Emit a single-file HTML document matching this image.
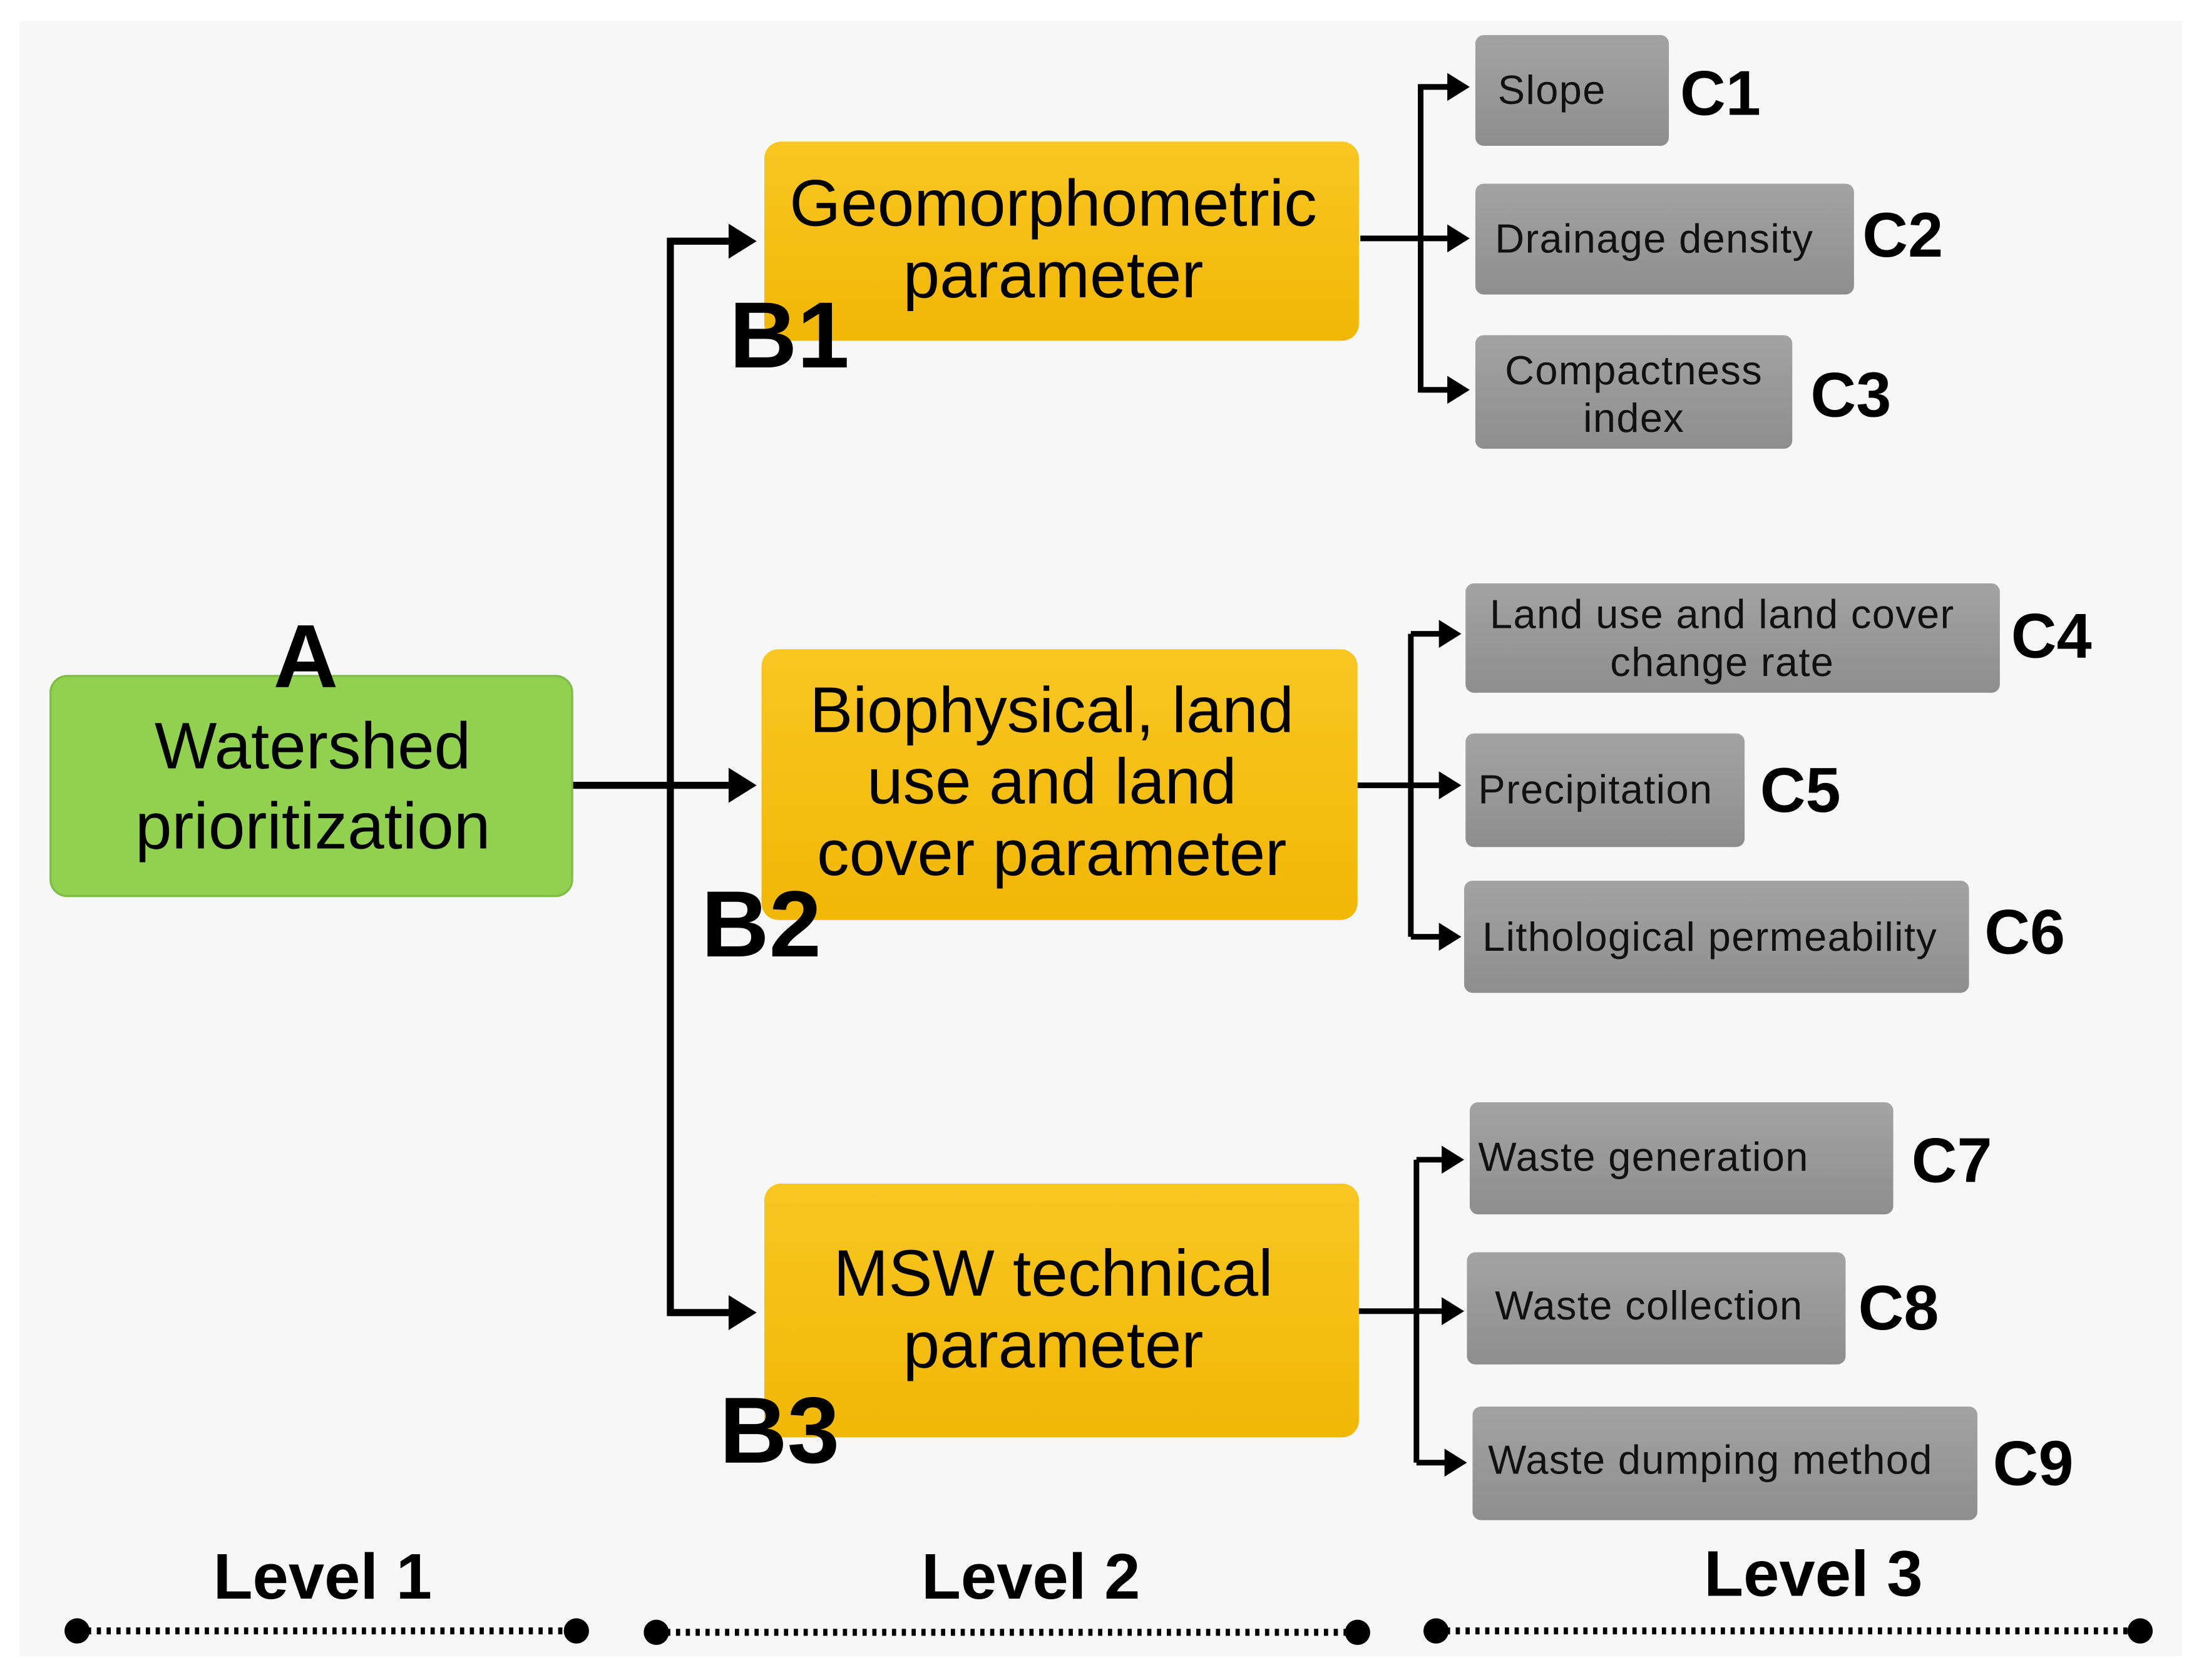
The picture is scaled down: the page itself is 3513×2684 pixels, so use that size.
<!DOCTYPE html>
<html><head><style>
html,body{margin:0;padding:0;background:#fff;}
svg{display:block;}
text{font-family:"Liberation Sans",sans-serif;}
</style></head><body>
<svg width="3513" height="2684" viewBox="0 0 1568 1198" preserveAspectRatio="none" xmlns="http://www.w3.org/2000/svg">
<defs>
<linearGradient id="gy" x1="0" y1="0" x2="0" y2="1"><stop offset="0" stop-color="#f9c623"/><stop offset="1" stop-color="#f2b705"/></linearGradient>
<linearGradient id="gg" x1="0" y1="0" x2="0" y2="1"><stop offset="0" stop-color="#a3a3a3"/><stop offset="1" stop-color="#8e8e8e"/></linearGradient>
<marker id="ah" markerWidth="5" markerHeight="5" refX="2.5" refY="2.5" orient="auto" markerUnits="strokeWidth"><path d="M0,0 L4,2.5 L0,5 z" fill="#000"/></marker>
</defs>
<rect x="0" y="0" width="1568" height="1198" fill="#fff"/>
<rect x="14" y="15" width="1542" height="1166" fill="#f7f7f7"/>

<g stroke="#000" stroke-width="5" fill="none">
<path d="M408,560 H532" marker-end="url(#ah)"/>
<path d="M532,172 H478 V936 H532" />
<path d="M478,172 H532" marker-end="url(#ah)"/>
<path d="M478,936 H532" marker-end="url(#ah)"/>
</g>
<g stroke="#000" stroke-width="4" fill="none">
<path d="M970,170 H1042" marker-end="url(#ah)"/>
<path d="M1040,62 H1013 V278 H1040"/>
<path d="M1013,62 H1042" marker-end="url(#ah)"/>
<path d="M1013,278 H1042" marker-end="url(#ah)"/>
<path d="M968,560 H1036" marker-end="url(#ah)"/>
<path d="M1006,452 V668"/>
<path d="M1006,452 H1036" marker-end="url(#ah)"/>
<path d="M1006,668 H1036" marker-end="url(#ah)"/>
<path d="M968,935 H1038" marker-end="url(#ah)"/>
<path d="M1010,827 V1043"/>
<path d="M1010,827 H1038" marker-end="url(#ah)"/>
<path d="M1010,1043 H1040" marker-end="url(#ah)"/>
</g>

<rect x="36" y="482" width="372" height="157" rx="12" fill="#92d050" stroke="#7fbd45" stroke-width="1.5"/>
<text x="223" y="548" font-size="47" text-anchor="middle">Watershed</text>
<text x="223" y="605" font-size="47" text-anchor="middle">prioritization</text>
<text x="218" y="490" font-size="64" font-weight="bold" text-anchor="middle">A</text>

<rect x="545" y="101" width="424" height="142" rx="12" fill="url(#gy)"/>
<text x="751" y="161" font-size="47" text-anchor="middle">Geomorphometric</text>
<text x="751" y="212" font-size="47" text-anchor="middle">parameter</text>
<text x="520" y="262" font-size="67" font-weight="bold">B1</text>

<rect x="543" y="463" width="425" height="193" rx="12" fill="url(#gy)"/>
<text x="750" y="522" font-size="46" text-anchor="middle">Biophysical,  land</text>
<text x="750" y="573" font-size="46" text-anchor="middle">use and land</text>
<text x="750" y="624" font-size="46" text-anchor="middle">cover  parameter</text>
<text x="500" y="682" font-size="67" font-weight="bold">B2</text>

<rect x="545" y="844" width="424" height="181" rx="12" fill="url(#gy)"/>
<text x="751" y="924" font-size="47" text-anchor="middle">MSW technical</text>
<text x="751" y="975" font-size="47" text-anchor="middle">parameter</text>
<text x="513" y="1043" font-size="67" font-weight="bold">B3</text>

<g fill="url(#gg)">
<rect x="1052" y="25" width="138" height="79" rx="6"/>
<rect x="1052" y="131" width="270" height="79" rx="6"/>
<rect x="1052" y="239" width="226" height="81" rx="6"/>
<rect x="1045" y="416" width="381" height="78" rx="6"/>
<rect x="1045" y="523" width="199" height="81" rx="6"/>
<rect x="1044" y="628" width="360" height="80" rx="6"/>
<rect x="1048" y="786" width="302" height="80" rx="6"/>
<rect x="1046" y="893" width="270" height="80" rx="6"/>
<rect x="1050" y="1003" width="360" height="81" rx="6"/>
</g>
<g font-size="29" fill="#111" letter-spacing="0.6">
<text x="1068" y="74">Slope</text>
<text x="1066" y="180">Drainage density</text>
<text x="1165" y="274" text-anchor="middle">Compactness</text>
<text x="1165" y="308" text-anchor="middle">index</text>
<text x="1228" y="448" text-anchor="middle">Land use and land cover</text>
<text x="1228" y="482" text-anchor="middle">change rate</text>
<text x="1054" y="573">Precipitation</text>
<text x="1057" y="678">Lithological permeability</text>
<text x="1054" y="835">Waste generation</text>
<text x="1066" y="941">Waste collection</text>
<text x="1061" y="1051">Waste dumping method</text>
</g>
<g font-size="45" font-weight="bold">
<text x="1198" y="82">C1</text>
<text x="1328" y="183">C2</text>
<text x="1291" y="297">C3</text>
<text x="1434" y="469">C4</text>
<text x="1255" y="579">C5</text>
<text x="1415" y="680">C6</text>
<text x="1363" y="843">C7</text>
<text x="1325" y="948">C8</text>
<text x="1421" y="1059">C9</text>
</g>

<g font-size="46" font-weight="bold" text-anchor="middle">
<text x="230" y="1140">Level 1</text>
<text x="735" y="1140">Level 2</text>
<text x="1293" y="1138">Level 3</text>
</g>
<g stroke="#000" stroke-width="5" stroke-dasharray="3,4" fill="none">
<path d="M55,1163 H411"/><path d="M468,1164 H968"/><path d="M1024,1163 H1526"/>
</g>
<g fill="#000">
<circle cx="55" cy="1163" r="9"/><circle cx="411" cy="1163" r="9"/>
<circle cx="468" cy="1164" r="9"/><circle cx="968" cy="1164" r="9"/>
<circle cx="1024" cy="1163" r="9"/><circle cx="1526" cy="1163" r="9"/>
</g>
</svg>
</body></html>
